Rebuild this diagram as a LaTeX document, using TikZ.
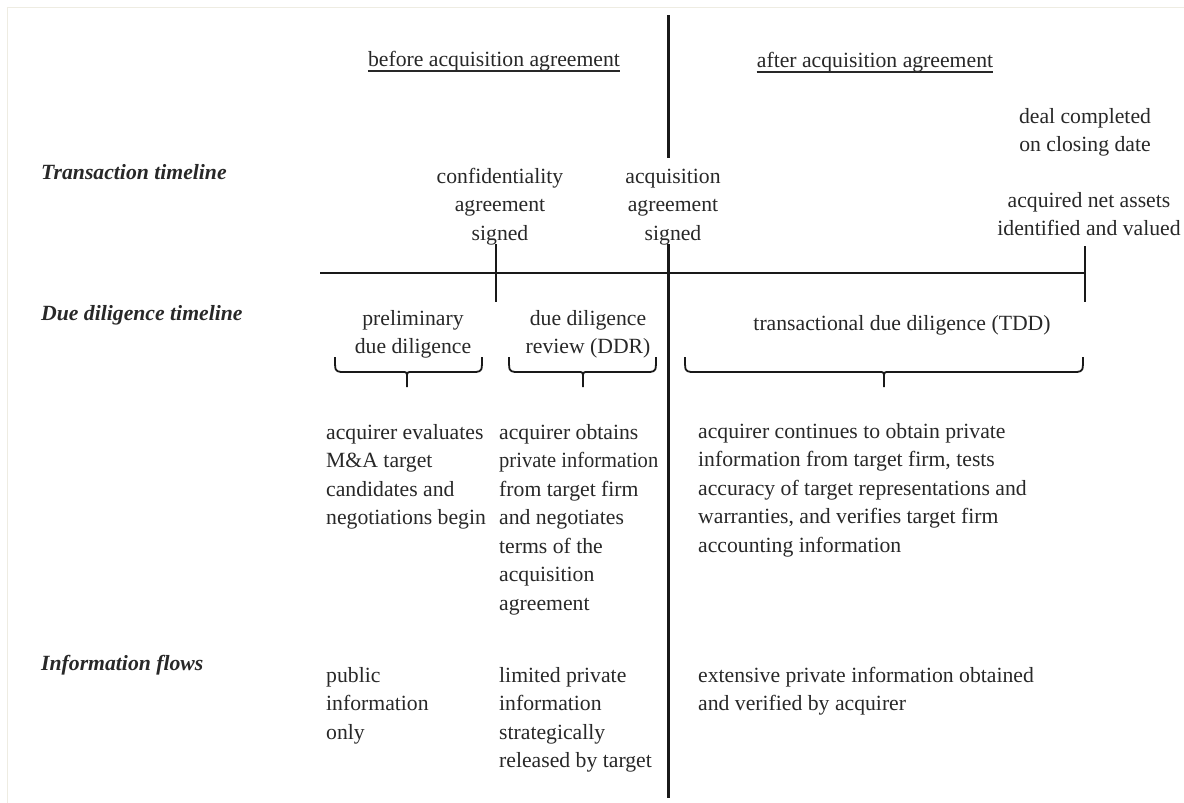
\documentclass[tikz,border=0pt]{standalone}
\usepackage{fontspec}
\usepackage{graphicx}
\setmainfont{Liberation Serif}
\definecolor{txt}{RGB}{40,40,40}
\definecolor{ln}{RGB}{25,25,25}
\definecolor{framec}{RGB}{238,236,226}
\tikzset{
  lbl/.style={inner sep=0pt, text=txt, font=\fontsize{21.7}{28.5}\selectfont},
  hdr/.style={lbl, font=\fontsize{21.7}{28.5}\selectfont\bfseries\itshape, anchor=base west},
  ctext/.style={lbl, align=center, anchor=base},
  ltext/.style={lbl, align=left, anchor=base west},
  mainline/.style={draw=ln, line width=3pt},
  tline/.style={draw=ln, line width=2pt},
  brc/.style={draw=ln, line width=1.8pt},
  uline/.style={draw=txt, line width=1.2pt}
}
% multi-line nodes: anchor base = baseline of the last line
\newcommand\ddbrace[3]{%
  \draw[brc] (#1,357) .. controls (#1,371) .. (#1+6,372) -- (#3-5,372) .. controls (#3,372) .. (#3,378) -- (#3,387);
  \draw[brc] (#2,357) .. controls (#2,371) .. (#2-6,372) -- (#3+5,372) .. controls (#3,372) .. (#3,378);
}
\begin{document}
\begin{tikzpicture}[x=1pt,y=-1pt]
\fill[white] (0,0) rectangle (1184,803);
\useasboundingbox (0,0) rectangle (1184,803);
% faint frame
\draw[framec, line width=1pt] (7,803) -- (7,7) -- (1184,7);

% headings
\node[hdr] (hT) at (41,179) {Transaction timeline};
\node[hdr] (hD) at (41,320) {Due diligence timeline};
\node[hdr] (hI) at (41,670) {Information flows};

% period headers
\node[ctext] (before) at (494,66) {before acquisition agreement};
\node[ctext] (after) at (875,67) {after acquisition agreement};
\draw[uline] ([yshift=-5pt]before.base west) -- ([yshift=-5pt]before.base east);
\draw[uline] ([yshift=-5pt]after.base west) -- ([yshift=-5pt]after.base east);

% transaction events
\node[ctext] (conf) at (500,240) {confidentiality\\agreement\\signed};
\node[ctext] (acq) at (673,240) {acquisition\\agreement\\signed};
\node[ctext] (deal) at (1085,151.5) {deal completed\\on closing date};
\node[ctext] (netass) at (1089,235.5) {acquired net assets\\identified and valued};

% timeline lines
\coordinate (vtop) at (668,15);
\coordinate (vgapA) at (668,158);
\coordinate (vgapB) at (668,244);
\coordinate (vbot) at (668,798);
\coordinate (hl) at (320,272.5);
\coordinate (hr) at (1085,272.5);
\coordinate (t1top) at (496,244);
\coordinate (t1bot) at (496,302);
\coordinate (t2top) at (1085,246);
\coordinate (t2bot) at (1085,302);
\draw[tline] (hl) -- (hr);
\draw[tline] (t1top) -- (t1bot);
\draw[tline] (t2top) -- (t2bot);
\draw[mainline] (vtop) -- (vgapA);
\draw[mainline] (vgapB) -- (vbot);

% due diligence phases
\node[ctext] (prelim) at (413,353.5) {preliminary\\due diligence};
\node[ctext] (ddr) at (588,353.5) {due diligence\\review (DDR)};
\node[ctext] (tdd) at (902,330) {transactional due diligence (TDD)};
\ddbrace{335}{482}{407}
\ddbrace{509}{656}{583}
\ddbrace{685}{1083}{884}

% descriptions
\node[ltext] (d1) at (326,524.5) {acquirer evaluates\\M\&A target\\candidates and\\negotiations begin};
\node[ltext] (d2) at (499,610) {acquirer obtains\\\scalebox{0.946}[1]{private information}\\from target firm\\and negotiates\\terms of the\\acquisition\\agreement};
\node[ltext] (d3) at (698,552) {acquirer continues to obtain private\\information from target firm, tests\\accuracy of target representations and\\warranties, and verifies target firm\\accounting information};

% information flows
\node[ltext] (i1) at (326,739) {public\\information\\only};
\node[ltext] (i2) at (499,767.5) {limited private\\information\\strategically\\released by target};
\node[ltext] (i3) at (698,710.5) {extensive private information obtained\\and verified by acquirer};
\end{tikzpicture}
\end{document}
